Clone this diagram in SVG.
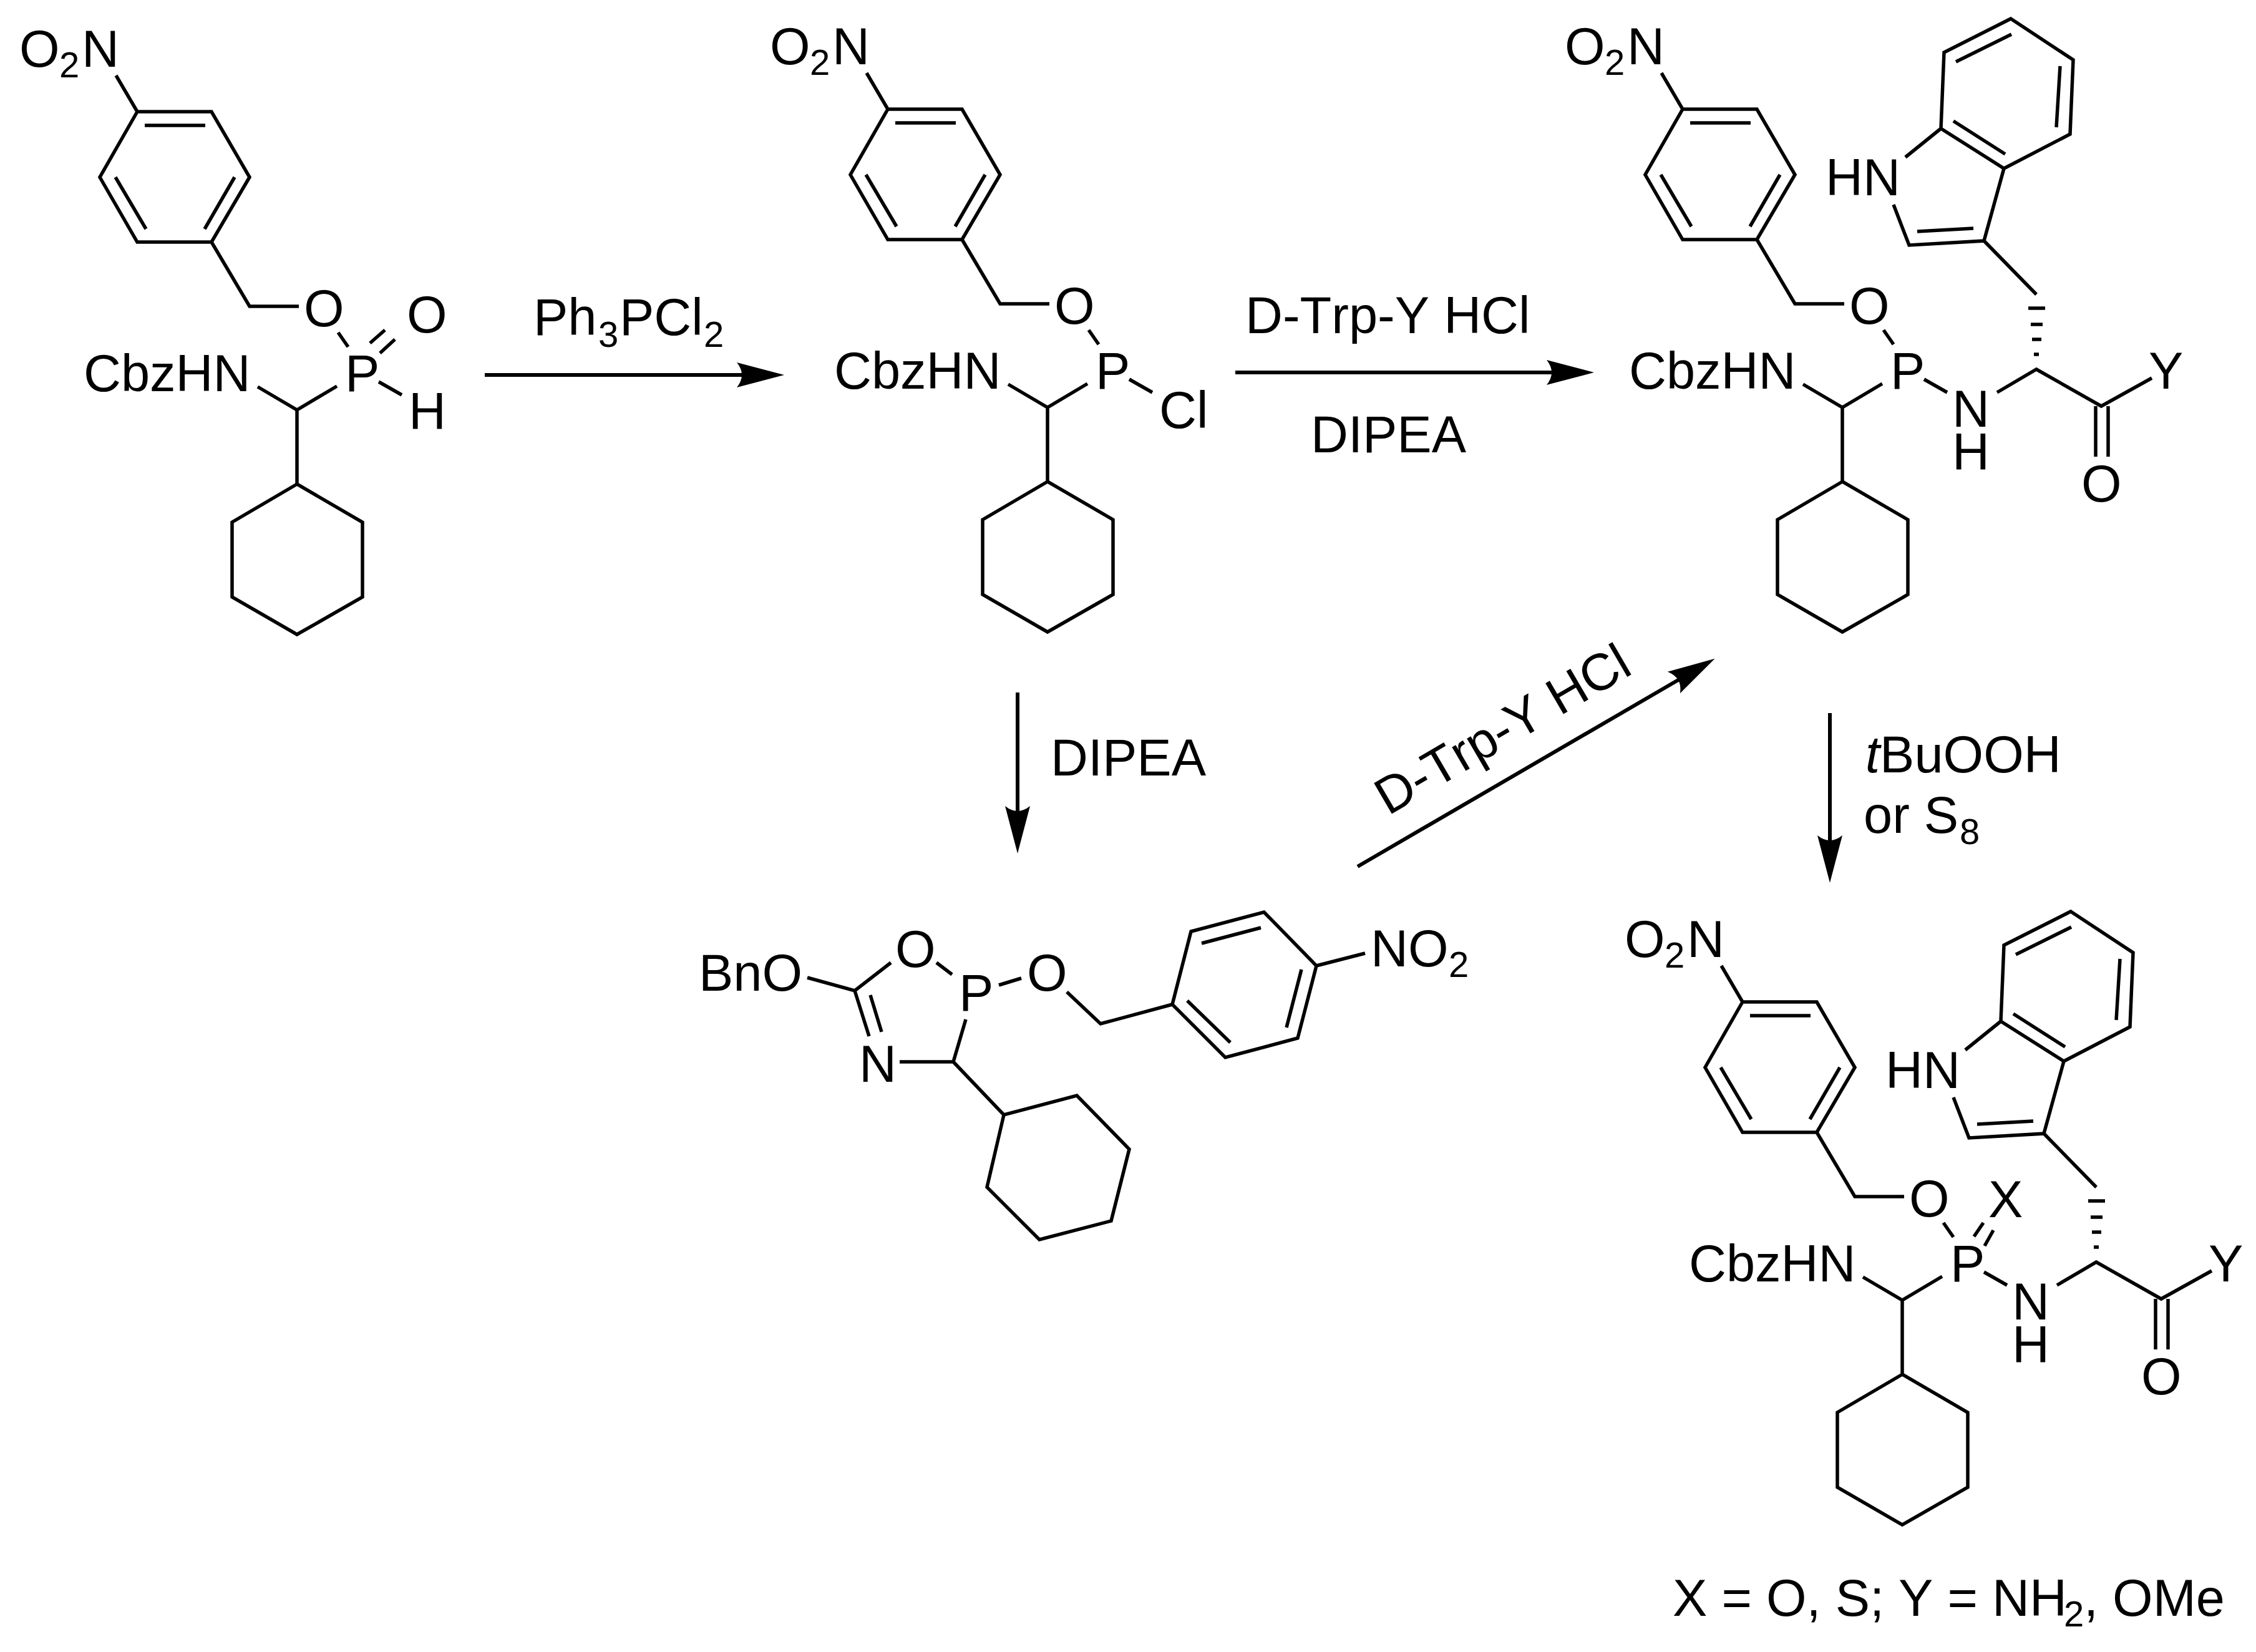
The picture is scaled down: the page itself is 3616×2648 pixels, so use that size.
<svg xmlns="http://www.w3.org/2000/svg" width="3616" height="2648" viewBox="0 0 3616 2648">
<style>
text{font-family:"Liberation Sans",Arial,sans-serif;font-size:83px;fill:#000;font-kerning:none}
.sub{font-size:58px}
.b{fill:none;stroke:#000;stroke-width:5.5;stroke-linejoin:miter;stroke-linecap:butt}
.a{fill:none;stroke:#000;stroke-width:6;marker-end:url(#ah)}
</style>
<defs>
<marker id="ah" markerUnits="userSpaceOnUse" markerWidth="80" markerHeight="44" refX="14" refY="22" orient="auto" viewBox="0 0 80 44"><path d="M0,2L76,22L0,42Q16,22 0,2Z" fill="#000"/></marker>
</defs>
<rect width="3616" height="2648" fill="#fff"/>
<g id="compound-1">
<path class="b" d="M186,121L220,179L339,179L400,284L339,388L220,388L160,284L220,179M232,201H329M185,284L234,367M376,284L328,367M339,388L400,491H479M542,533L558,556M413,620L476,657L540,619M476,657V776L581,837V957L476,1017L372,957V837L476,776"/>
<path class="b" d="M593,550L617,529M609,566L633,544M607,612L644,633"/>
<text x="31" y="107">O<tspan class="sub" x="95" y="124">2</tspan><tspan x="131" y="107">N</tspan></text>
<text x="134" y="627">CbzHN</text>
<text x="487" y="523">O</text>
<text x="553" y="627">P</text>
<text x="652" y="533">O</text>
<text x="655" y="688">H</text>
</g>
<g id="compound-2" transform="translate(1203,-4)">
<path class="b" d="M186,121L220,179L339,179L400,284L339,388L220,388L160,284L220,179M232,201H329M185,284L234,367M376,284L328,367M339,388L400,491H479M542,533L558,556M413,620L476,657L540,619M476,657V776L581,837V957L476,1017L372,957V837L476,776"/>
<path class="b" d="M607,612L644,633"/>
<text x="31" y="107">O<tspan class="sub" x="95" y="124">2</tspan><tspan x="131" y="107">N</tspan></text>
<text x="134" y="627">CbzHN</text>
<text x="487" y="523">O</text>
<text x="553" y="627">P</text>
<text x="655" y="690">Cl</text>
</g>
<g id="compound-3" transform="translate(2477,-4)">
<path class="b" d="M186,121L220,179L339,179L400,284L339,388L220,388L160,284L220,179M232,201H329M185,284L234,367M376,284L328,367M339,388L400,491H479M542,533L558,556M413,620L476,657L540,619M476,657V776L581,837V957L476,1017L372,957V837L476,776"/>
<text x="31" y="107">O<tspan class="sub" x="95" y="124">2</tspan><tspan x="131" y="107">N</tspan></text>
<text x="134" y="627">CbzHN</text>
<text x="487" y="523">O</text>
<text x="553" y="627">P</text>
</g>
<g id="compound-3-sidechain">
<path class="b" d="M3223,30L3323,96L3318,215L3212,270L3111,206L3116,84ZM3135,99L3224,55M3302,106L3296,204M3131,194L3214,247M3111,206L3054,252M3035,328L3060,393L3180,386L3212,270M3073,371L3163,366M3180,386L3264,472M3084,608L3121,629M3201,629L3264,592L3368,651L3449,606M3359,651V732M3379,651V732"/>
<path class="b" d="M3251,494H3278M3255,520H3274M3257,544H3272M3260,568H3268"/>
<text x="2926" y="313">HN</text>
<text x="3129" y="684">N</text>
<text x="3129" y="753">H</text>
<text x="3444" y="623">Y</text>
<text x="3336" y="804">O</text>
</g>
<g id="compound-4" transform="translate(2573,1427)">
<path class="b" d="M186,121L220,179L339,179L400,284L339,388L220,388L160,284L220,179M232,201H329M185,284L234,367M376,284L328,367M339,388L400,491H479M542,533L558,556M413,620L476,657L540,619M476,657V776L581,837V957L476,1017L372,957V837L476,776"/>
<text x="31" y="107">O<tspan class="sub" x="95" y="124">2</tspan><tspan x="131" y="107">N</tspan></text>
<text x="134" y="627">CbzHN</text>
<text x="487" y="523">O</text>
<text x="553" y="627">P</text>
</g>
<g id="compound-4-sidechain" transform="translate(96,1431)">
<path class="b" d="M3223,30L3323,96L3318,215L3212,270L3111,206L3116,84ZM3135,99L3224,55M3302,106L3296,204M3131,194L3214,247M3111,206L3054,252M3035,328L3060,393L3180,386L3212,270M3073,371L3163,366M3180,386L3264,472M3084,608L3121,629M3201,629L3264,592L3368,651L3449,606M3359,651V732M3379,651V732"/>
<path class="b" d="M3251,494H3278M3255,520H3274M3257,544H3272M3260,568H3268"/>
<path class="b" d="M3068,551L3083,529M3085,566L3099,541"/>
<text x="2926" y="313">HN</text>
<text x="3129" y="684">N</text>
<text x="3129" y="753">H</text>
<text x="3444" y="623">Y</text>
<text x="3336" y="804">O</text>
<text x="3091" y="520">X</text>
</g>
<g id="compound-5">
<path class="b" d="M1294,1567L1370,1588L1428,1543M1501,1543L1526,1562M1601,1579L1637,1568M1548,1634L1528,1702L1442,1702M1370,1588L1393,1661M1395,1595L1413,1654M1710,1590L1764,1641L1879,1610M1879,1610L1909,1493L2026,1462L2110,1548L2080,1664L1964,1695ZM1926,1512L2021,1487M2086,1554L2062,1647M1903,1604L1972,1671M2110,1548L2188,1528M1528,1702L1609,1787L1726,1756L1810,1842L1781,1957L1666,1987L1582,1903L1609,1787"/>
<text x="1120" y="1588">BnO</text>
<text x="1435" y="1550">O</text>
<text x="1537" y="1620">P</text>
<text x="1646" y="1588">O</text>
<text x="1377" y="1734">N</text>
<text x="2197" y="1549">NO<tspan class="sub" x="2322" y="1566">2</tspan></text>
</g>
<g id="connectors">
<path class="a" d="M777,601H1195"/>
<path class="a" d="M1980,597H2493"/>
<path class="a" d="M1631,1110V1306"/>
<path class="a" d="M2933,1143V1353"/>
<path class="a" d="M2176,1389L2695,1087"/>
</g>
<g id="labels">
<text x="855" y="537">Ph<tspan class="sub" x="959" y="556">3</tspan><tspan x="993" y="537">PCl</tspan><tspan class="sub" x="1128" y="556">2</tspan></text>
<text x="1996" y="534">D-Trp-Y HCl</text>
<text x="2101" y="725">DIPEA</text>
<text x="1684" y="1243">DIPEA</text>
<text x="2225" y="1308" transform="rotate(-30.2 2225 1308)">D-Trp-Y HCl</text>
<text x="2990" y="1238"><tspan font-style="italic">t</tspan>BuOOH</text>
<text x="2987" y="1335">or S<tspan class="sub" x="3141" y="1353">8</tspan></text>
<text x="2681" y="2590">X = O, S; Y = NH<tspan class="sub" x="3308" y="2607">2</tspan><tspan x="3340" y="2590">, OMe</tspan></text>
</g>
</svg>
